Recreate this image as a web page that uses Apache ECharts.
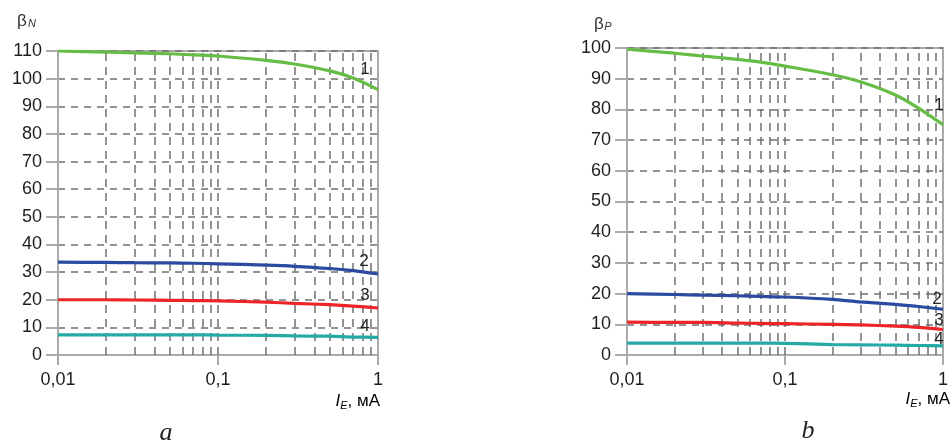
<!DOCTYPE html>
<html>
<head>
<meta charset="utf-8">
<script src="https://cdn.jsdelivr.net/npm/echarts@6/dist/echarts.min.js"></script>
<style>html,body{margin:0;padding:0;background:#fff}#c{width:951px;height:443px}</style>
</head>
<body>
<div id="c"></div>
<script>
// ---- data ----
var currents = [0.01, 0.02, 0.03, 0.05, 0.07, 0.1, 0.2, 0.3, 0.5, 0.7, 1];
// panel a (beta N)
var aCurve1 = [110, 109.6, 109.3, 109.0, 108.6, 108.2, 106.6, 105.3, 102.8, 100.2, 96.0];
var aCurve2 = [33.6, 33.5, 33.4, 33.3, 33.2, 33.0, 32.5, 32.1, 31.3, 30.5, 29.3];
var aCurve3 = [20.0, 20.0, 19.9, 19.8, 19.7, 19.6, 19.1, 18.7, 18.2, 17.7, 17.0];
var aCurve4 = [7.3, 7.3, 7.3, 7.3, 7.3, 7.2, 7.1, 6.9, 6.8, 6.5, 6.4];
// panel b (beta P)
var bCurve1 = [99.6, 98.3, 97.4, 96.3, 95.4, 94.1, 91.3, 89.0, 84.7, 80.4, 75.0];
var bCurve2 = [20.0, 19.7, 19.5, 19.3, 19.1, 18.9, 18.1, 17.3, 16.5, 15.8, 14.9];
var bCurve3 = [10.7, 10.6, 10.6, 10.4, 10.3, 10.2, 10.0, 9.8, 9.4, 9.0, 8.3];
var bCurve4 = [3.9, 3.9, 3.9, 3.9, 3.9, 3.8, 3.4, 3.3, 3.2, 3.1, 3.0];
var minorGridX = [0.02, 0.03, 0.04, 0.05, 0.06, 0.07, 0.08, 0.09, 0.1, 0.2, 0.3, 0.4, 0.5, 0.6, 0.7, 0.8, 0.9];
var curveNames = ['1', '2', '3', '4'];

var colors = ['#66bd45', '#2a4ba0', '#ee2528', '#24aaa6'];
var FONT = '"Liberation Sans", Arial, sans-serif';
var gridCol = '#707070';
var axisCol = '#aaaaaa';

function pairs(ys) { return currents.map(function (x, i) { return [x, ys[i]]; }); }

function xAxisDef(gi) {
  return {
    gridIndex: gi, type: 'log', logBase: 10, min: 0.01, max: 1,
    axisLine: { show: true, lineStyle: { color: axisCol, width: 2 } },
    axisTick: { show: true, length: 10, lineStyle: { color: axisCol, width: 2 } },
    axisLabel: { color: '#1e1e1e', fontSize: 18, fontFamily: FONT, margin: 16,
      formatter: function (v) { return String(+v.toPrecision(3)).replace('.', ','); } },
    splitLine: { show: false }
  };
}
function yAxisDef(gi, max) {
  return {
    gridIndex: gi, type: 'value', min: 0, max: max, interval: 10,
    axisLine: { show: true, lineStyle: { color: axisCol, width: 2 } },
    axisTick: { show: true, length: 12, lineStyle: { color: axisCol, width: 2 } },
    axisLabel: { color: '#1e1e1e', fontSize: 18, fontFamily: FONT, margin: 16 },
    splitLine: { show: true, lineStyle: { color: gridCol, width: 1.5, type: [7, 6] } }
  };
}
function gridLinesSeries(gi) {
  return {
    type: 'line', xAxisIndex: gi, yAxisIndex: gi, data: [], z: 1, silent: true,
    markLine: {
      silent: true, symbol: 'none', animation: false,
      label: { show: false },
      lineStyle: { color: gridCol, width: 1.5, type: [8, 6] },
      data: minorGridX.map(function (x) { return { xAxis: x }; })
    }
  };
}
function curve(gi, ys, ci) {
  return {
    type: 'line', name: curveNames[ci], xAxisIndex: gi, yAxisIndex: gi, z: 5,
    data: pairs(ys), showSymbol: false, smooth: 0.25,
    lineStyle: { color: colors[ci], width: 3.2 }, itemStyle: { color: colors[ci] }
  };
}

var chart = echarts.init(document.getElementById('c'), null, { renderer: 'canvas' });
var txt = function (t, x, y, extra) {
  var s = Object.assign({ text: t, x: x, y: y, fill: '#222', font: '17px ' + FONT, textAlign: 'center', textVerticalAlign: 'middle' }, extra || {});
  return { type: 'text', style: s, z: 20 };
};
var subRich = {
  i: { fontFamily: FONT, fontStyle: 'italic', fontSize: 17, color: '#222' },
  e: { fontFamily: FONT, fontStyle: 'italic', fontSize: 11, color: '#222', padding: [9, 0, 0, 0] },
  n: { fontFamily: FONT, fontSize: 17, color: '#222' }
};
chart.setOption({
  animation: false,
  backgroundColor: '#fff',
  grid: [
    { left: 58, right: 573, top: 51, bottom: 88, show: true, borderColor: axisCol, borderWidth: 2 },
    { left: 627, right: 2, top: 48, bottom: 88, show: true, borderColor: axisCol, borderWidth: 2 }
  ],
  xAxis: [xAxisDef(0), xAxisDef(1)],
  yAxis: [yAxisDef(0, 110), yAxisDef(1, 100)],
  series: [
    gridLinesSeries(0), gridLinesSeries(1),
    curve(0, aCurve1, 0), curve(0, aCurve2, 1), curve(0, aCurve3, 2), curve(0, aCurve4, 3),
    curve(1, bCurve1, 0), curve(1, bCurve2, 1), curve(1, bCurve3, 2), curve(1, bCurve4, 3)
  ],
  graphic: [
    // axis titles
    txt('β', 22, 21, { font: '17px ' + FONT, fill: '#333' }),
    txt('N', 32, 24, { font: 'italic 11px ' + FONT, fill: '#333' }),
    txt('β', 599, 24, { font: '17px ' + FONT, fill: '#333' }),
    txt('P', 608, 27, { font: 'italic 11px ' + FONT, fill: '#333' }),
    { type: 'text', z: 20, style: { text: '{i|I}{e|E}{n|, мА}', x: 380, y: 401, textAlign: 'right', textVerticalAlign: 'middle', rich: subRich } },
    { type: 'text', z: 20, style: { text: '{i|I}{e|E}{n|, мА}', x: 950, y: 399, textAlign: 'right', textVerticalAlign: 'middle', rich: subRich } },
    // curve numbers
    txt('1', 365, 69), txt('2', 364, 261), txt('3', 365, 295), txt('4', 365, 326),
    txt('1', 939, 105), txt('2', 937, 299), txt('3', 939, 320), txt('4', 939, 339),
    // panel captions
    txt('a', 166, 433, { font: 'italic 26px "Liberation Serif", "DejaVu Serif", serif' }),
    txt('b', 808, 431, { font: 'italic 26px "Liberation Serif", "DejaVu Serif", serif' })
  ]
});
</script>
</body>
</html>
